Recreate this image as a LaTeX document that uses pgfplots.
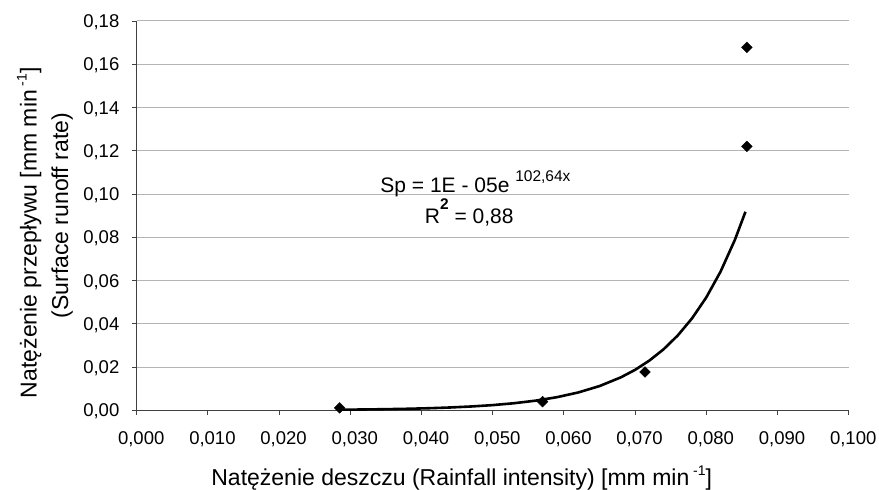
\documentclass[border=0pt]{standalone}
\usepackage{fontspec}
\setmainfont{Liberation Sans}
\usepackage{pgfplots}
\pgfplotsset{compat=1.18}
\definecolor{gridgray}{HTML}{B4B4B4}
\definecolor{axisgray}{HTML}{404040}

\newcommand{\unitsup}[1]{\raisebox{10pt}{\fontsize{14}{16}\selectfont #1}}

\begin{document}
\begin{tikzpicture}
\useasboundingbox (-136.7pt,-79.7pt) rectangle (742.3pt,410.3pt);
\begin{axis}[
  scale only axis,
  width=712pt, height=389.3pt,
  xmin=0, xmax=0.1,
  ymin=0, ymax=0.18,
  xtick={0,0.01,...,0.1},
  ytick={0,0.02,...,0.18},
  axis x line=bottom, axis y line=left,
  axis line style={-, line width=1.1pt, axisgray},
  tick align=outside,
  major tick length=4.5pt,
  tick style={line width=0.9pt, axisgray},
  ymajorgrids,
  grid style={line width=1pt, gridgray},
  /pgf/number format/assume math mode=true,
  xticklabel style={/pgf/number format/.cd, fixed, fixed zerofill, precision=3, use comma, /tikz/.cd,
    anchor=base, yshift=-29.4pt, xshift=4.5pt, font=\fontsize{18.5}{22}\selectfont},
  yticklabel style={/pgf/number format/.cd, fixed, fixed zerofill, precision=2, use comma, /tikz/.cd,
    anchor=base east, inner sep=0pt, xshift=-12.7pt, yshift=-6.6pt, font=\fontsize{18.5}{22}\selectfont},
  scaled x ticks=false, scaled y ticks=false,
  xlabel={Natężenie deszczu (Rainfall intensity) [mm min\,\unitsup{-1}]},
  xlabel style={at={(axis description cs:0.4565,-0.1942)}, anchor=base, inner sep=0pt,
    font=\fontsize{23}{27}\selectfont},
  ylabel={Natężenie przepływu [mm min\,\unitsup{-1}]\hspace*{34pt}\\(Surface runoff rate)},
  ylabel style={at={(axis description cs:-0.0892,0.5)}, anchor=south, inner sep=0pt,
    align=center, font=\fontsize{23}{31.7}\selectfont},
  clip=false,
]
\addplot[only marks, mark=square*, mark size=3.8pt, black,
  every mark/.append style={rotate=45}] coordinates {
  (0.0285,0.0011) (0.0570,0.0040) (0.0714,0.0177) (0.0857,0.1220) (0.0857,0.1678)
};
\addplot[black, line width=2.6pt, line join=round] coordinates {
  (0.029,0.00028) (0.032,0.00038) (0.035,0.00052) (0.038,0.00070) (0.041,0.00095)
  (0.044,0.00130) (0.047,0.00177) (0.050,0.00240) (0.053,0.00327) (0.056,0.00445)
  (0.059,0.00605) (0.062,0.00823) (0.065,0.01120) (0.068,0.01524) (0.070,0.01871)
  (0.072,0.02298) (0.074,0.02821) (0.076,0.03464) (0.078,0.04252) (0.080,0.05221)
  (0.082,0.06410) (0.084,0.07869) (0.0855,0.0918)
};
\node[anchor=base, inner sep=0pt, font=\fontsize{21}{25}\selectfont]
  at (axis cs:0.04758,0.1006) {Sp = 1E - 05e \raisebox{11pt}{\fontsize{15.5}{18}\selectfont 102,64x}};
\node[anchor=base, inner sep=0pt, font=\fontsize{21}{25}\selectfont]
  at (axis cs:0.0467,0.08646) {R\raisebox{14pt}{\fontsize{15.5}{18}\selectfont\bfseries 2} = 0,88};
\end{axis}
\end{tikzpicture}
\end{document}
